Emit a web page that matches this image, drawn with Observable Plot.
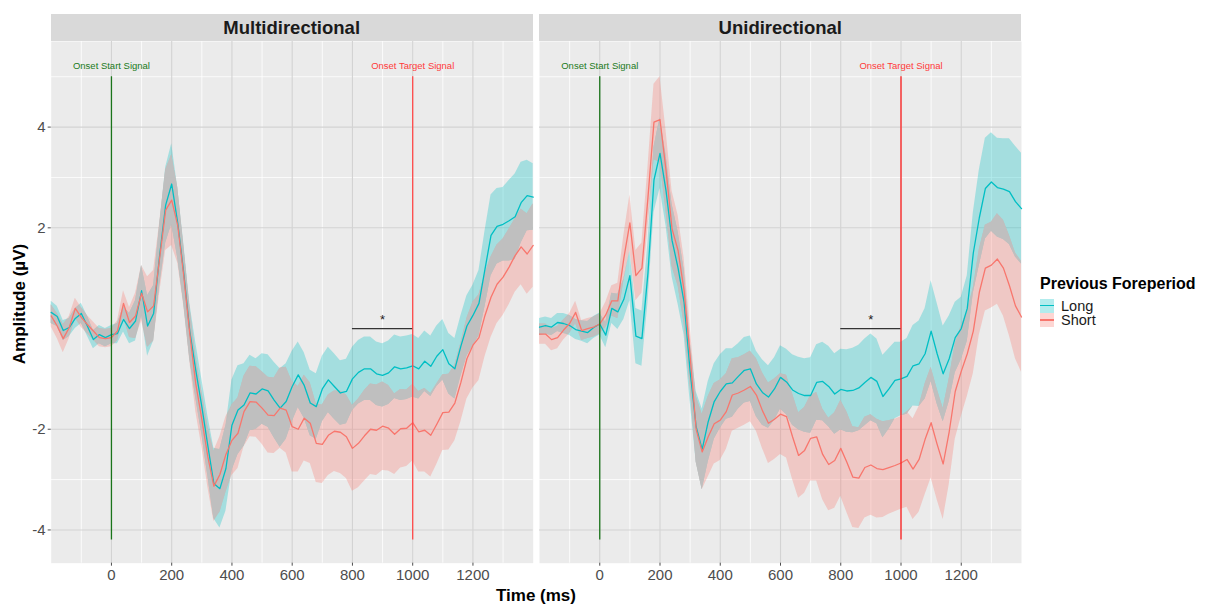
<!DOCTYPE html>
<html><head><meta charset="utf-8">
<script src="https://cdn.jsdelivr.net/npm/d3@7"></script>
<script src="https://cdn.jsdelivr.net/npm/@observablehq/plot@0.6"></script>
<style>
body{margin:0;background:#fff;}
#wrap{position:relative;width:1207px;height:607px;overflow:hidden;font-family:'Liberation Sans',Arial,sans-serif;background:#fff;}
.strip{position:absolute;top:13.5px;height:27.5px;background:#d9d9d9;color:#1a1a1a;font-weight:bold;font-size:18.5px;line-height:28px;text-align:center;}
.plotbox{position:absolute;top:0;}
.ttl{position:absolute;font-weight:bold;color:#000;white-space:nowrap;}
</style></head><body><div id="wrap"></div>
<script>
// ---------- data ----------
const time = [
 -200,-180,-160,-140,-120,-100,-80,-60,-40,-20,
 0,20,40,60,80,100,120,140,160,180,
 200,220,240,260,280,300,320,340,360,380,
 400,420,440,460,480,500,520,540,560,580,
 600,620,640,660,680,700,720,740,760,780,
 800,820,840,860,880,900,920,940,960,980,
 1000,1020,1040,1060,1080,1100,1120,1140,1160,1180,
 1200,1220,1240,1260,1280,1300,1320,1340,1360,1380,
 1400];

const panels = ["Multidirectional", "Unidirectional"];
const groups = ["Long", "Short"];

// Multidirectional – Long
const multiLongMean = [
 0.32,0.24,-0.04,0.02,0.20,0.30,0.05,-0.22,-0.12,-0.18,
 -0.12,-0.10,0.18,0.00,0.15,0.75,0.05,0.30,1.45,2.45,
 2.87,2.10,1.10,-0.05,-0.83,-1.55,-2.33,-3.08,-3.18,-2.78,
 -1.92,-1.62,-1.52,-1.28,-1.30,-1.20,-1.24,-1.42,-1.58,-1.45,
 -1.15,-0.92,-1.13,-1.48,-1.55,-1.20,-1.02,-1.15,-1.28,-1.25,
 -1.00,-0.87,-0.80,-0.80,-0.90,-0.93,-0.88,-0.76,-0.80,-0.78,
 -0.74,-0.80,-0.65,-0.75,-0.55,-0.42,-0.70,-0.80,-0.35,0.05,
 0.26,0.50,1.18,1.85,2.03,2.07,2.14,2.22,2.50,2.64,
 2.61];
const multiLongSE = [
 0.22,0.20,0.20,0.18,0.20,0.20,0.20,0.18,0.18,0.18,
 0.18,0.20,0.25,0.30,0.40,0.50,0.60,0.55,0.60,0.75,
 0.80,0.70,0.60,0.55,0.55,0.55,0.60,0.70,0.78,0.85,
 0.90,0.88,0.82,0.75,0.70,0.70,0.72,0.75,0.78,0.75,
 0.70,0.65,0.65,0.65,0.65,0.65,0.65,0.65,0.64,0.64,
 0.63,0.63,0.63,0.63,0.63,0.63,0.63,0.63,0.63,0.63,
 0.62,0.60,0.60,0.60,0.60,0.60,0.60,0.60,0.60,0.60,
 0.60,0.65,0.75,0.80,0.75,0.73,0.80,0.85,0.80,0.70,
 0.66];
// Multidirectional – Short
const multiShortMean = [
 0.25,0.05,-0.20,0.02,0.40,0.22,0.08,-0.05,-0.18,-0.20,
 -0.18,-0.05,0.50,0.12,0.25,0.70,0.33,0.45,1.40,2.35,
 2.55,2.05,1.05,-0.10,-1.10,-1.80,-2.55,-3.13,-2.90,-2.50,
 -2.22,-2.08,-1.65,-1.45,-1.46,-1.58,-1.72,-1.73,-1.58,-1.62,
 -1.95,-2.00,-1.78,-1.88,-2.28,-2.30,-2.12,-2.04,-2.06,-2.15,
 -2.38,-2.28,-2.13,-2.00,-2.02,-1.94,-1.98,-2.10,-1.99,-1.98,
 -1.87,-2.05,-2.02,-2.12,-1.90,-1.67,-1.66,-1.48,-1.07,-0.60,
 -0.33,-0.18,0.26,0.62,0.88,1.02,1.22,1.45,1.62,1.48,
 1.65];
const multiShortSE = [
 0.22,0.25,0.28,0.22,0.20,0.20,0.18,0.18,0.18,0.18,
 0.18,0.20,0.25,0.30,0.45,0.55,0.70,0.70,0.70,0.80,
 0.90,0.75,0.60,0.55,0.55,0.55,0.60,0.70,0.75,0.75,
 0.70,0.70,0.70,0.70,0.70,0.72,0.75,0.75,0.80,0.85,
 0.90,0.85,0.85,0.80,0.78,0.78,0.80,0.80,0.82,0.83,
 0.85,0.88,0.90,0.90,0.90,0.88,0.85,0.80,0.78,0.76,
 0.76,0.80,0.83,0.83,0.80,0.75,0.75,0.75,0.78,0.80,
 0.85,0.85,0.82,0.80,0.78,0.76,0.75,0.73,0.75,0.80,
 0.83];
// Unidirectional – Long
const uniLongMean = [
 0.03,0.06,0.03,0.12,0.10,0.06,-0.02,-0.05,-0.08,0.02,
 0.09,-0.13,0.40,0.33,0.58,1.05,-0.15,-0.20,1.10,2.95,
 3.48,2.74,1.75,1.20,0.52,-0.85,-1.95,-2.40,-1.85,-1.45,
 -1.25,-1.10,-1.08,-0.95,-0.83,-0.80,-1.10,-1.27,-1.36,-1.20,
 -0.97,-1.06,-1.22,-1.29,-1.33,-1.33,-1.07,-1.05,-1.15,-1.30,
 -1.21,-1.24,-1.23,-1.18,-1.07,-0.97,-1.05,-1.35,-1.20,-1.03,
 -1.00,-0.95,-0.74,-0.70,-0.50,-0.05,-0.50,-0.90,-0.60,-0.18,
 0.00,0.40,1.50,2.20,2.78,2.91,2.80,2.77,2.72,2.52,
 2.38];
const uniLongSE = [
 0.17,0.17,0.17,0.18,0.20,0.20,0.20,0.20,0.22,0.22,
 0.22,0.25,0.30,0.35,0.40,0.50,0.55,0.55,0.60,0.65,
 0.70,0.70,0.72,0.72,0.65,0.60,0.70,0.80,0.80,0.75,
 0.73,0.70,0.68,0.65,0.65,0.65,0.65,0.65,0.62,0.62,
 0.63,0.65,0.70,0.72,0.73,0.75,0.75,0.78,0.80,0.80,
 0.80,0.82,0.84,0.85,0.86,0.86,0.84,0.82,0.80,0.76,
 0.73,0.75,0.80,0.85,0.90,1.00,1.00,0.95,0.85,0.70,
 0.62,0.65,0.80,0.95,1.00,0.98,0.98,1.00,1.05,1.10,
 1.10];
// Unidirectional – Short
const uniShortMean = [
 -0.11,-0.11,-0.22,-0.18,-0.03,0.10,0.32,-0.04,0.00,0.03,
 0.09,0.27,0.55,0.55,1.40,2.10,1.05,1.20,2.60,4.10,
 4.15,3.14,1.98,1.55,0.75,-0.55,-2.00,-2.45,-2.15,-1.89,
 -1.82,-1.65,-1.32,-1.28,-1.22,-1.15,-1.32,-1.63,-1.88,-1.80,
 -1.70,-1.75,-2.15,-2.52,-2.42,-2.18,-2.15,-2.50,-2.70,-2.62,
 -2.38,-2.65,-2.95,-2.97,-2.76,-2.71,-2.78,-2.80,-2.76,-2.72,
 -2.67,-2.60,-2.79,-2.60,-2.20,-1.87,-2.30,-2.69,-2.05,-1.25,
 -0.85,-0.50,-0.05,0.72,1.20,1.26,1.38,1.20,0.85,0.45,
 0.23];
const uniShortSE = [
 0.20,0.20,0.22,0.22,0.20,0.20,0.22,0.20,0.20,0.20,
 0.20,0.25,0.30,0.35,0.45,0.55,0.50,0.50,0.60,0.75,
 0.85,0.80,0.75,0.70,0.65,0.60,0.65,0.75,0.80,0.80,
 0.80,0.75,0.72,0.70,0.70,0.70,0.72,0.75,0.80,0.80,
 0.80,0.82,0.85,0.85,0.85,0.85,0.88,0.90,0.92,0.95,
 0.95,1.00,1.00,1.00,1.00,1.00,0.98,0.95,0.93,0.92,
 0.92,0.95,1.00,1.05,1.10,1.10,1.10,1.10,1.05,0.95,
 0.90,0.85,0.85,0.85,0.85,0.85,0.90,0.95,1.00,1.05,
 1.10];

const xTicks = [0, 200, 400, 600, 800, 1000, 1200];
const xMinor = [-100, 100, 300, 500, 700, 900, 1100, 1300];
const yTicks = [4, 2, -2, -4];
const yMinor = [5, 3, -3];
const onsetTimes = [0, 1000];
const onsetLabels = ["Onset Start Signal", "Onset Target Signal"];
const sigWindow = [800, 1000];
const sigLabel = "*";

// ---------- build ----------
const TEAL = "#00BFC4", SALMON = "#F8766D";
function rows(mean, se) {
  return time.map((t, i) => ({t, m: mean[i], lo: mean[i] - se[i], hi: mean[i] + se[i]}));
}
function overlap(a, b) {
  return a.map((d, i) => {
    const lo = Math.max(d.lo, b[i].lo), hi = Math.min(d.hi, b[i].hi);
    return {t: d.t, lo, hi: Math.max(lo, hi)};
  });
}
const panelData = [
  {long: rows(multiLongMean, multiLongSE), short: rows(multiShortMean, multiShortSE)},
  {long: rows(uniLongMean, uniLongSE), short: rows(uniShortMean, uniShortSE)}
];

const PT = 41, PB = 562.7, H = 590;
const yDom = [-4.66, 5.70];
const font = "'Liberation Sans', Arial, sans-serif";

function panel(idx, showY) {
  const d = panelData[idx];
  const ml = showY ? 50.7 : 0;
  const w = ml + 482.0;
  const ov = overlap(d.long, d.short);
  const targetRed = idx === 0 ? "#ff4a4a" : "#ff1f1f";
  const marks = [
    Plot.frame({fill: "#ebebeb", stroke: "none"}),
    Plot.ruleX(xMinor, {stroke: "#ffffff", strokeWidth: 0.8}),
    Plot.ruleY(yMinor, {stroke: "#ffffff", strokeWidth: 0.8}),
    Plot.ruleX(xTicks, {stroke: "#d3d3d3", strokeWidth: 1.1}),
    Plot.ruleY(yTicks, {stroke: "#d3d3d3", strokeWidth: 1.1}),
    Plot.areaY(d.long, {x: "t", y1: "lo", y2: "hi", fill: TEAL, fillOpacity: 0.3}),
    Plot.areaY(d.short, {x: "t", y1: "lo", y2: "hi", fill: SALMON, fillOpacity: 0.3}),
    Plot.areaY(ov, {x: "t", y1: "lo", y2: "hi", fill: "#bfbfbf"}),
    Plot.lineY(d.long, {x: "t", y: "m", stroke: TEAL, strokeWidth: 1.3}),
    Plot.lineY(d.short, {x: "t", y: "m", stroke: SALMON, strokeWidth: 1.3}),
    Plot.ruleX([onsetTimes[0]], {y1: 5, y2: -4.2, stroke: "#1a741a", strokeWidth: 1.3}),
    Plot.ruleX([onsetTimes[1]], {y1: 5, y2: -4.2, stroke: targetRed, strokeWidth: 1.3}),
    Plot.text([onsetLabels[0]], {x: onsetTimes[0], y: 5.22, text: v => v, fill: "#1a7a1a", fontSize: 9.5}),
    Plot.text([onsetLabels[1]], {x: onsetTimes[1], y: 5.22, text: v => v, fill: "#ff3a3a", fontSize: 9.5}),
    Plot.ruleY([0], {x1: sigWindow[0], x2: sigWindow[1], stroke: "#333333", strokeWidth: 1.3}),
    Plot.text([sigLabel], {x: (sigWindow[0] + sigWindow[1]) / 2, y: 0.17, text: v => v, fill: "#1a1a1a", fontSize: 13}),
    Plot.axisX(xTicks, {tickFormat: v => String(v), tickSize: 3, tickPadding: 3, fontSize: 15, color: "#4d4d4d", label: null})
  ];
  if (showY) marks.push(Plot.axisY(yTicks, {tickFormat: v => String(v), tickSize: 3, tickPadding: 2.5, fontSize: 15, color: "#4d4d4d", label: null}));
  return Plot.plot({
    width: w, height: H,
    marginLeft: ml, marginRight: 0, marginTop: PT, marginBottom: H - PB,
    x: {domain: [-200, 1400], axis: null},
    y: {domain: yDom, axis: null},
    style: {fontFamily: font, background: "transparent", overflow: "visible"},
    marks
  });
}

const wrap = document.getElementById("wrap");
const lefts = [0, 539.3];
const stripLefts = [50.7, 539.3];
panels.forEach((name, i) => {
  const box = document.createElement("div");
  box.className = "plotbox";
  box.style.left = lefts[i] + "px";
  box.appendChild(panel(i, i === 0));
  wrap.appendChild(box);
  const s = document.createElement("div");
  s.className = "strip";
  s.style.left = stripLefts[i] + "px";
  s.style.width = "482px";
  s.textContent = name;
  wrap.appendChild(s);
});

// axis titles
const yt = document.createElement("div");
yt.className = "ttl";
yt.style.cssText += "left:-80px;top:294px;width:200px;height:20px;line-height:20px;text-align:center;font-size:17px;transform:rotate(-90deg);";
yt.textContent = "Amplitude (µV)";
wrap.appendChild(yt);
const xt = document.createElement("div");
xt.className = "ttl";
xt.style.cssText += "left:436px;top:586px;width:200px;height:20px;line-height:20px;text-align:center;font-size:17px;";
xt.textContent = "Time (ms)";
wrap.appendChild(xt);

// legend
const lg = document.createElement("div");
lg.style.cssText = "position:absolute;left:1040px;top:274px;";
let html = '<div style="font-weight:bold;font-size:16px;line-height:19px;color:#000;white-space:nowrap;">Previous Foreperiod</div>';
const keyCols = [TEAL, SALMON];
const keyFills = ["rgba(0,191,196,0.3)", "rgba(248,118,109,0.3)"];
groups.forEach((g, i) => {
  html += `<div style="position:absolute;left:0;top:${24.5 + i * 14.5}px;width:14px;height:14px;background:${keyFills[i]};">
    <div style="position:absolute;left:0;top:6.3px;width:14px;height:1.4px;background:${keyCols[i]};"></div></div>
    <div style="position:absolute;left:21px;top:${24.5 + i * 14.5}px;height:14px;font-size:14.5px;line-height:14px;color:#1a1a1a;">${g}</div>`;
});
lg.innerHTML = html;
wrap.appendChild(lg);
</script></body></html>
